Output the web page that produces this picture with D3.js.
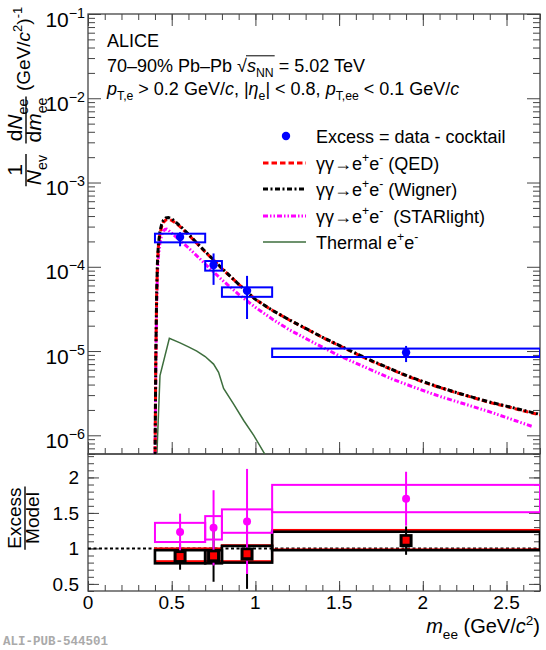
<!DOCTYPE html>
<html>
<head>
<meta charset="utf-8">
<script src="https://cdn.jsdelivr.net/npm/d3@7"></script>
<style>
  body { margin: 0; background: #fff; }
  svg { display: block; font-family: "Liberation Sans", Arial, sans-serif; }
</style>
</head>
<body>
<svg id="chart" width="546" height="650"></svg>
<script>

// ---- data ----
const binLo = [0.4, 0.7, 0.8, 1.1];
const binHi = [0.7, 0.8, 1.1, 2.7];
const binX = [0.55, 0.75, 0.95, 1.9];

const excess = [2.25e-4, 1.05e-4, 5.2e-5, 9.6e-6];
const excessStatLo = [1.75e-4, 6.1e-5, 2.4e-5, 7.4e-6];
const excessStatHi = [2.58e-4, 1.44e-4, 7.8e-5, 1.15e-5];
const excessSysLo = [1.95e-4, 9.0e-5, 4.4e-5, 8.5e-6];
const excessSysHi = [2.47e-4, 1.17e-4, 5.7e-5, 1.07e-5];

const gammaMass = [0.4, 0.405, 0.41, 0.415, 0.42, 0.43, 0.44, 0.45, 0.465, 0.48, 0.5, 0.52, 0.55, 0.6, 0.65, 0.7, 0.75, 0.8, 0.9, 1.0, 1.1, 1.2, 1.3, 1.4, 1.5, 1.6, 1.7, 1.8, 1.9, 2.0, 2.1, 2.2, 2.3, 2.4, 2.5, 2.6, 2.7];
const qedYield = [4e-7, 8e-6, 4.5e-5, 1.1e-4, 1.7e-4, 2.5e-4, 3.0e-4, 3.35e-4, 3.6e-4, 3.65e-4, 3.55e-4, 3.35e-4, 3.0e-4, 2.4e-4, 1.9e-4, 1.5e-4, 1.2e-4, 9.5e-5, 6.2e-5, 4.1e-5, 3.05e-5, 2.35e-5, 1.85e-5, 1.45e-5, 1.16e-5, 9.3e-6, 7.5e-6, 6.2e-6, 5.1e-6, 4.3e-6, 3.7e-6, 3.2e-6, 2.8e-6, 2.45e-6, 2.2e-6, 1.95e-6, 1.75e-6];
const wignerYield = [4e-7, 8e-6, 4.8e-5, 1.15e-4, 1.8e-4, 2.65e-4, 3.2e-4, 3.55e-4, 3.8e-4, 3.85e-4, 3.7e-4, 3.45e-4, 3.05e-4, 2.45e-4, 1.92e-4, 1.52e-4, 1.21e-4, 9.6e-5, 6.2e-5, 4.1e-5, 3.05e-5, 2.36e-5, 1.86e-5, 1.46e-5, 1.17e-5, 9.4e-6, 7.6e-6, 6.25e-6, 5.15e-6, 4.35e-6, 3.72e-6, 3.22e-6, 2.82e-6, 2.48e-6, 2.22e-6, 1.98e-6, 1.77e-6];

const starMass = [0.4, 0.405, 0.41, 0.415, 0.42, 0.43, 0.44, 0.45, 0.46, 0.47, 0.48, 0.5, 0.55, 0.6, 0.65, 0.7, 0.8, 0.9, 1.0, 1.1, 1.2, 1.35, 1.5, 1.65, 1.8, 1.95, 2.1, 2.25, 2.4, 2.55, 2.65];
const starYield = [4e-7, 6e-6, 3.5e-5, 8.5e-5, 1.3e-4, 1.95e-4, 2.4e-4, 2.65e-4, 2.78e-4, 2.8e-4, 2.72e-4, 2.5e-4, 2.05e-4, 1.68e-4, 1.35e-4, 1.08e-4, 7.0e-5, 4.7e-5, 3.3e-5, 2.4e-5, 1.8e-5, 1.25e-5, 8.8e-6, 6.5e-6, 4.8e-6, 3.7e-6, 2.9e-6, 2.35e-6, 1.9e-6, 1.5e-6, 1.28e-6];

const thermalMass = [0.41, 0.43, 0.486, 0.55, 0.6, 0.65, 0.7, 0.75, 0.78, 0.81, 0.87, 0.93, 0.99, 1.06];
const thermalYield = [5e-7, 5.1e-6, 1.42e-5, 1.25e-5, 1.12e-5, 1.0e-5, 8.6e-6, 7.0e-6, 5.6e-6, 3.6e-6, 2.35e-6, 1.5e-6, 1.0e-6, 5.8e-7];

// ratio panel
const starRatio = [1.23, 1.29, 1.38, 1.70];
const starRatioStat = [0.26, 0.53, 0.74, 0.38];
const starRatioSysLo = [1.09, 1.125, 1.22, 1.51];
const starRatioSysHi = [1.36, 1.455, 1.55, 1.895];

const wignerRatio = [0.88, 0.89, 0.92, 1.11];
const wignerRatioStat = [0.18, 0.36, 0.49, 0.2];
const wignerRatioSysLo = [0.79, 0.79, 0.80, 0.975];
const wignerRatioSysHi = [0.975, 0.975, 1.035, 1.235];

const qedRatio = [0.885, 0.895, 0.925, 1.115];
const qedRatioSysLo = [0.82, 0.82, 0.82, 0.985];
const qedRatioSysHi = [1.0, 1.0, 1.045, 1.26];

const xTickLabels = ["0", "0.5", "1", "1.5", "2", "2.5"];
const ratioTickLabels = ["0.5", "1", "1.5", "2"];
const decadeExps = [-6, -5, -4, -3, -2, -1];

// ---- layout ----
const svg = d3.select("#chart");
const frame = "#444";

const x = d3.scaleLinear().domain([0, 2.7]).range([88, 540]);
const yTop = d3.scaleLog().domain([6e-7, 0.1]).range([454, 14]);
const yBot = d3.scaleLinear().domain([0.4, 2.33]).range([591, 454]);

const FONT = "'Liberation Sans', Arial, sans-serif";

// rich text: parts with sub / sup / italic
function rich(sel, parts, fs) {
  let shift = 0;
  parts.forEach(p => {
    let target = 0, size = fs;
    if (p.sub) { target = fs * 0.28; size = fs * 0.68; }
    if (p.sup) { target = -fs * 0.42; size = fs * 0.68; }
    const ts = sel.append("tspan").text(p.t)
      .attr("font-size", size)
      .attr("dy", target - shift);
    if (p.i) ts.attr("font-style", "italic");
    shift = target;
  });
  return sel;
}

// ---- axes ----
const xMinor = d3.range(0, 28).map(i => i / 10);
const xMajor = [0, 0.5, 1, 1.5, 2, 2.5];

function tickAxis(axisFn, scale, values, size, transform) {
  const g = svg.append("g").attr("transform", transform)
    .call(axisFn(scale).tickValues(values).tickSize(-size).tickFormat(""));
  g.select(".domain").remove();
  g.selectAll("line").attr("stroke", frame).attr("stroke-width", 1);
  return g;
}

// top panel
const logTicks = yTop.ticks().filter(v => v >= 6e-7 && v <= 0.1);
const isDecade = v => Math.abs(Math.log10(v) - Math.round(Math.log10(v))) < 1e-6;
const logMinor = logTicks.filter(v => !isDecade(v));
const logMajor = logTicks.filter(isDecade);

tickAxis(d3.axisLeft, yTop, logMinor, 7, "translate(88,0)");
tickAxis(d3.axisLeft, yTop, logMajor, 13, "translate(88,0)");
tickAxis(d3.axisRight, yTop, logMinor, 7, "translate(540,0)");
tickAxis(d3.axisRight, yTop, logMajor, 13, "translate(540,0)");
tickAxis(d3.axisBottom, x, xMinor, 6, "translate(0,454)");
tickAxis(d3.axisBottom, x, xMajor, 12, "translate(0,454)");
tickAxis(d3.axisTop, x, xMinor, 6, "translate(0,14)");
tickAxis(d3.axisTop, x, xMajor, 12, "translate(0,14)");

// bottom panel
const rMinor = d3.range(4, 24).map(i => i / 10);
const rMajor = [0.5, 1, 1.5, 2];
tickAxis(d3.axisLeft, yBot, rMinor, 6, "translate(88,0)");
tickAxis(d3.axisLeft, yBot, rMajor, 11, "translate(88,0)");
tickAxis(d3.axisRight, yBot, rMinor, 6, "translate(540,0)");
tickAxis(d3.axisRight, yBot, rMajor, 11, "translate(540,0)");
tickAxis(d3.axisBottom, x, xMinor, 6, "translate(0,591)");
tickAxis(d3.axisBottom, x, xMajor, 10, "translate(0,591)");

// frames
svg.append("rect").attr("x", 88).attr("y", 14).attr("width", 452).attr("height", 440)
  .attr("fill", "none").attr("stroke", frame).attr("stroke-width", 1.3);
svg.append("rect").attr("x", 88).attr("y", 454).attr("width", 452).attr("height", 137)
  .attr("fill", "none").attr("stroke", frame).attr("stroke-width", 1.3);

// tick labels
decadeExps.forEach(e => {
  const yy = yTop(Math.pow(10, e));
  const t = svg.append("text").attr("x", 85).attr("y", yy + 12.5)
    .attr("text-anchor", "end").attr("font-family", FONT);
  rich(t, [{ t: "10" }, { t: "\u2212" + Math.abs(e), sup: true }], 21);
});
ratioTickLabels.forEach((s, i) => {
  svg.append("text").attr("x", 79).attr("y", yBot(rMajor[i]) + 7)
    .attr("text-anchor", "end").attr("font-size", 19).attr("font-family", FONT).text(s);
});
xTickLabels.forEach((s, i) => {
  svg.append("text").attr("x", x(xMajor[i])).attr("y", 609)
    .attr("text-anchor", "middle").attr("font-size", 19).attr("font-family", FONT).text(s);
});

// axis titles
const xt = svg.append("text").attr("x", 540).attr("y", 633).attr("text-anchor", "end").attr("font-family", FONT);
rich(xt, [{ t: "m", i: true }, { t: "ee", sub: true }, { t: " (GeV/" }, { t: "c", i: true }, { t: "2", sup: true }, { t: ")" }], 20);

function fraction(g, num, den, center, fs, numBase, barPos, denBase) {
  const n = g.append("text").attr("x", -center).attr("y", numBase).attr("text-anchor", "middle").attr("font-family", FONT);
  rich(n, num, fs);
  const d = g.append("text").attr("x", -center).attr("y", denBase).attr("text-anchor", "middle").attr("font-family", FONT);
  rich(d, den, fs);
  const w = Math.max(n.node().getComputedTextLength(), d.node().getComputedTextLength()) + 2;
  g.append("line").attr("x1", -center - w / 2).attr("x2", -center + w / 2)
    .attr("y1", barPos).attr("y2", barPos).attr("stroke", "#000").attr("stroke-width", 1.4);
}

const yl = svg.append("g").attr("transform", "rotate(-90)");
fraction(yl, [{ t: "1" }], [{ t: "N", i: true }, { t: "ev", sub: true }], 170, 21, 22, 26, 41);
fraction(yl, [{ t: "d" }, { t: "N", i: true }, { t: "ee", sub: true }], [{ t: "d" }, { t: "m", i: true }, { t: "ee", sub: true }], 120, 21, 22, 26, 41);
const unit = yl.append("text").attr("x", -91).attr("y", 30).attr("font-family", FONT);
rich(unit, [{ t: "(GeV/" }, { t: "c", i: true }, { t: "2", sup: true }, { t: ")" }, { t: "-1", sup: true }], 19);

const rl = svg.append("g").attr("transform", "rotate(-90)");
fraction(rl, [{ t: "Excess" }], [{ t: "Model" }], 518, 19, 21, 25, 39);

// ---- top panel contents ----
const defs = svg.append("defs");
defs.append("clipPath").attr("id", "clipTop")
  .append("rect").attr("x", 88).attr("y", 14).attr("width", 452).attr("height", 440);
const topG = svg.append("g").attr("clip-path", "url(#clipTop)");

const floor = 1e-7;
const lineGen = d3.line().x(d => x(d[0])).y(d => yTop(Math.max(d[1], floor)));

const thermal = { m: thermalMass, v: thermalYield, color: "#3d6e3d", w: 1.5, dash: null };
const star = { m: starMass, v: starYield, color: "#ff00ff", w: 3, dash: "5,2,1.5,2,1.5,2" };
const qed = { m: gammaMass, v: qedYield, color: "#ff0000", w: 3, dash: "5.5,3" };
const wigner = { m: gammaMass, v: wignerYield, color: "#000", w: 3, dash: "5,2.5,2,2.5" };

[thermal, star, qed, wigner].forEach(c => {
  topG.append("path").datum(d3.zip(c.m, c.v)).attr("d", lineGen)
    .attr("fill", "none").attr("stroke", c.color).attr("stroke-width", c.w)
    .attr("stroke-dasharray", c.dash);
});

const blue = "#0000ff";
binX.forEach((bx, i) => {
  topG.append("rect")
    .attr("x", x(binLo[i])).attr("width", x(binHi[i]) - x(binLo[i]))
    .attr("y", yTop(excessSysHi[i])).attr("height", yTop(excessSysLo[i]) - yTop(excessSysHi[i]))
    .attr("fill", "none").attr("stroke", blue).attr("stroke-width", 2);
  topG.append("line").attr("x1", x(bx)).attr("x2", x(bx))
    .attr("y1", yTop(excessStatLo[i])).attr("y2", yTop(excessStatHi[i]))
    .attr("stroke", blue).attr("stroke-width", 2);
  topG.append("circle").attr("cx", x(bx)).attr("cy", yTop(excess[i])).attr("r", 4.2).attr("fill", blue);
});

// ---- texts ----
svg.append("text").attr("x", 107).attr("y", 47).attr("font-family", FONT).attr("font-size", 18).text("ALICE");
const t2 = svg.append("text").attr("x", 107).attr("y", 72).attr("font-family", FONT);
rich(t2, [{ t: "70\u201390% Pb\u2013Pb " }, { t: "\u221A" }, { t: "s", i: true }, { t: "NN", sub: true }, { t: " = 5.02 TeV" }], 18);
{
  const node = t2.node();
  const s0 = node.getEndPositionOfChar(13).x - 1;
  const s1 = node.getEndPositionOfChar(16).x;
  const yy = 72 - 18 * 0.9;
  svg.append("line").attr("x1", s0).attr("x2", s1 + 1).attr("y1", yy).attr("y2", yy)
    .attr("stroke", "#000").attr("stroke-width", 1);
}
const t3 = svg.append("text").attr("x", 107).attr("y", 95).attr("font-family", FONT);
rich(t3, [{ t: "p", i: true }, { t: "T,e", sub: true }, { t: " > 0.2 GeV/" }, { t: "c", i: true }, { t: ", |" },
          { t: "\u03B7", i: true }, { t: "e", sub: true }, { t: "| < 0.8, " }, { t: "p", i: true }, { t: "T,ee", sub: true },
          { t: " < 0.1 GeV/" }, { t: "c", i: true }], 18);

// legend: Excess, QED, Wigner, STARlight, Thermal
const legRows = [136, 163, 189, 216, 242];
const lg = svg.append("g");
lg.append("circle").attr("cx", 286).attr("cy", legRows[0]).attr("r", 4.2).attr("fill", blue);
[qed, wigner, star, thermal].forEach((c, i) => {
  lg.append("line").attr("x1", 263).attr("x2", 306).attr("y1", legRows[i + 1]).attr("y2", legRows[i + 1])
    .attr("stroke", c.color).attr("stroke-width", c.w).attr("stroke-dasharray", c.dash);
});
const legText = [
  [{ t: "Excess = data - cocktail" }],
  [{ t: "\u03B3\u03B3\u2192e" }, { t: "+", sup: true }, { t: "e" }, { t: "-", sup: true }, { t: " (QED)" }],
  [{ t: "\u03B3\u03B3\u2192e" }, { t: "+", sup: true }, { t: "e" }, { t: "-", sup: true }, { t: " (Wigner)" }],
  [{ t: "\u03B3\u03B3\u2192e" }, { t: "+", sup: true }, { t: "e" }, { t: "-", sup: true }, { t: "\u00A0 (STARlight)" }],
  [{ t: "Thermal e" }, { t: "+", sup: true }, { t: "e" }, { t: "-", sup: true }]
];
legText.forEach((parts, i) => {
  const t = lg.append("text").attr("x", 316).attr("y", legRows[i] + 6.5).attr("font-family", FONT);
  rich(t, parts, 18);
});

// ---- ratio panel ----
defs.append("clipPath").attr("id", "clipBot")
  .append("rect").attr("x", 88).attr("y", 454).attr("width", 452).attr("height", 137);
const botG = svg.append("g").attr("clip-path", "url(#clipBot)");

botG.append("line").attr("x1", x(0)).attr("x2", x(2.7)).attr("y1", yBot(1)).attr("y2", yBot(1))
  .attr("stroke", "#000").attr("stroke-width", 2).attr("stroke-dasharray", "3,2.5");

function sysBox(lo, hi, color, w) {
  binX.forEach((bx, i) => {
    botG.append("rect")
      .attr("x", x(binLo[i])).attr("width", x(binHi[i]) - x(binLo[i]))
      .attr("y", yBot(hi[i])).attr("height", yBot(lo[i]) - yBot(hi[i]))
      .attr("fill", "none").attr("stroke", color).attr("stroke-width", w);
  });
}
sysBox(qedRatioSysLo, qedRatioSysHi, "#ff0000", 2);
sysBox(wignerRatioSysLo, wignerRatioSysHi, "#000", 2.6);

binX.forEach((bx, i) => {
  botG.append("line").attr("x1", x(bx)).attr("x2", x(bx))
    .attr("y1", yBot(wignerRatio[i] - wignerRatioStat[i])).attr("y2", yBot(wignerRatio[i] + wignerRatioStat[i]))
    .attr("stroke", "#000").attr("stroke-width", 2);
});

sysBox(starRatioSysLo, starRatioSysHi, "#ff00ff", 2);
binX.forEach((bx, i) => {
  botG.append("line").attr("x1", x(bx)).attr("x2", x(bx))
    .attr("y1", yBot(starRatio[i] - starRatioStat[i])).attr("y2", yBot(starRatio[i] + starRatioStat[i]))
    .attr("stroke", "#ff00ff").attr("stroke-width", 2);
  botG.append("circle").attr("cx", x(bx)).attr("cy", yBot(starRatio[i])).attr("r", 4).attr("fill", "#ff00ff");
});

binX.forEach((bx, i) => {
  botG.append("rect").attr("x", x(bx) - 6.5).attr("y", yBot(wignerRatio[i]) - 6.5)
    .attr("width", 13).attr("height", 13).attr("fill", "#000");
  botG.append("rect").attr("x", x(bx) - 3.5).attr("y", yBot(qedRatio[i]) - 3.5)
    .attr("width", 7).attr("height", 7).attr("fill", "#ff0000");
});

// publication id
svg.append("text").attr("x", 3).attr("y", 645).attr("font-family", "'Liberation Mono', monospace")
  .attr("font-weight", "bold").attr("font-size", 12.5).attr("fill", "#aaa").text("ALI-PUB-544501");

</script>
</body>
</html>
